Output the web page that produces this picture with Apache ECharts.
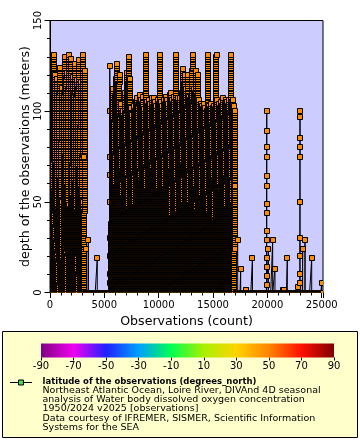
<!DOCTYPE html>
<html><head><meta charset="utf-8">
<script src="https://cdn.jsdelivr.net/npm/echarts@6/dist/echarts.min.js"></script>
<style>html,body{margin:0;padding:0;background:#fff}#c{width:360px;height:440px}</style>
</head><body><div id="c"></div>
<script>
// ================= DATA =================
// Deep CTD casts: observation index of first sample, deepest level (m); samples every 1 m from the surface
const castStart = [
  250,370,570,765,975,1225,1400,1590,1840,2000,2145,2330,2510,2715,2915,3130,
  5620,5730,5840,5950,6060,6170,6280,6390,6500,6610,6720,6830,6940,7050,7160,7270,7380,7490,7600,7710,
  7820,7930,8040,8150,8260,8370,8480,8590,8700,8810,8920,9030,9140,9250,9360,9470,9580,9690,9800,9910,
  10020,10130,10240,10350,10460,10570,10680,10790,10900,11010,11120,11230,11340,11450,11560,11670,11780,
  11890,12000,12110,12220,12330,12440,12550,12660,12770,12880,12990,13100,13210,13320,13430,13540,13650,
  13760,13870,13980,14090,14200,14310,14420,14530,14640,14750,14860,14970,15080,15190,15300,15410,15520,
  15630,15740,15850,15960,16070,16180,16290,16400,16510,16620,16730,16840,16950
];
const castMaxDepth = [
  131,120,118,124,113,130,121,131,129,119,126,117,128,116,131,122,
  100,112,108,118,126,115,120,104,98,100,96,110,121,115,130,118,102,98,103,100,
  105,107,104,109,106,104,108,101,131,105,103,106,104,107,102,107,105,103,106,104,
  131,105,103,106,104,108,106,104,109,110,106,104,108,131,105,107,104,107,110,123,
  115,120,112,120,108,106,108,131,112,110,122,108,120,106,104,103,101,104,102,100,
  131,103,101,104,102,103,101,131,106,104,102,105,103,107,104,106,105,103,106,131,
  104,106,103,100
];
// Shallower casts in between the deep ones
const shallowCastStart = [
  310,470,668,870,1100,1312,1495,1715,1920,2072,2237,2420,2612,2815,3022,
  5675,5785,5895,6005,6115,6225,6335,6445,6555,6665,6775,6885,6995,7105,7215,7325,7435,7545,7655,7765,
  7875,7985,8095,8205,8315,8425,8535,8645,8755,8865,8975,9085,9195,9305,9415,9525,9635,9745,9855,9965,
  10075,10185,10295,10405,10515,10625,10735,10845,10955,11065,11175,11285,11395,11505,11615,11725,11835,
  11945,12055,12165,12275,12385,12495,12605,12715,12825,12935,13045,13155,13265,13375,13485,13595,13705,
  13815,13925,14035,14145,14255,14365,14475,14585,14695,14805,14915,15025,15135,15245,15355,15465,15575,
  15685,15795,15905,16015,16125,16235,16345,16455,16565,16675,16785,16895
];
const shallowCastMaxDepth = [
  55,70,45,62,50,75,58,48,66,52,60,44,68,57,50,
  48,62,40,55,70,45,58,38,66,52,44,60,72,50,41,57,64,47,53,39,
  68,46,59,43,61,55,49,71,42,56,63,45,58,37,66,51,44,60,69,48,
  54,40,62,57,46,65,50,43,59,67,41,53,61,47,56,39,64,52,45,70,
  48,58,42,63,55,46,60,38,67,50,57,44,62,49,66,41,54,59,47,64,
  51,43,68,56,45,61,39,58,52,65,47,55,42,60,50,63,46,57,40,66,
  53,48,59
];
const castLevelStep = 1;
// Bottle casts / isolated samples: observation index, depths (m)
const bottleStart = [3150, 3285, 3525, 4350, 5490, 17060, 17270, 17545, 18000, 18060, 18630,
  19930, 20100, 20490, 20700, 21480, 21540, 21835, 22820, 22995, 23250, 23465, 24080, 24995];
const bottleLevels = [
  [75], [24], [29], [19], [0, 5, 10, 20, 30, 50, 65, 75, 100, 125], [24, 59], [29], [13], [1.5], [1.5], [19],
  [0, 4, 9, 14, 19, 29, 34, 44, 49, 59, 64, 75, 80, 89, 100], [24], [29], [13], [1.5], [1.5], [19], [3],
  [0, 5, 10, 20, 30, 50, 75, 80, 85, 97, 100], [24], [29], [19], [5]
];
// Runs of surface (0 m) observations, shown every 10th observation
const surfaceRuns = [[3260, 5470], [17080, 25120]];
const surfaceEvery = 10;

const xMax = 25120, xInterval = 5000;
const yMax = 150, yInterval = 50;
const colorbarMin = -90, colorbarMax = 90, colorbarInterval = 20;
const colorbarColors = ['#800080', '#f000f0', '#2020ff', '#00a0ff', '#00ff50', '#a8f000', '#ffd400', '#ff8400', '#ff1000', '#800000'];
const markerColor = '#ff8c00';
const legendTitle = 'latitude of the observations (degrees_north)';
const legendLines = [
  'Northeast Atlantic Ocean, Loire River, DIVAnd 4D seasonal',
  'analysis of Water body dissolved oxygen concentration',
  '1950/2024 v2025 [observations]',
  'Data courtesy of IFREMER, SISMER, Scientific Information',
  'Systems for the SEA'
];
const xTitle = 'Observations (count)';
const yTitle = 'depth of the observations (meters)';

// ================= build point sequence =================
const segs = [];
function addCast(s, maxD) {
  const pts = [];
  for (let d = 0, j = 0; d <= maxD; d += castLevelStep, j++) pts.push([s + j, d]);
  segs.push({ x: s, pts });
}
castStart.forEach((s, i) => addCast(s, castMaxDepth[i]));
shallowCastStart.forEach((s, i) => addCast(s, shallowCastMaxDepth[i]));
bottleStart.forEach((s, i) => segs.push({ x: s, pts: bottleLevels[i].map((d, j) => [s + j, d]) }));
surfaceRuns.forEach(([a, b]) => { for (let x = a; x <= b; x += surfaceEvery) segs.push({ x, pts: [[x, 0]] }); });
segs.sort((p, q) => p.x - q.x);
const points = [];
segs.forEach(s => s.pts.forEach(p => points.push(p)));

const FONT = 'DejaVu Sans';
const chart = echarts.init(document.getElementById('c'), null, { renderer: 'canvas' });

function renderMarker(params, api) {
  const p = api.coord([api.value(0), api.value(1)]);
  const cx = Math.round(p[0]), cy = Math.round(p[1]);
  return { type: 'rect', shape: { x: cx - 2.5, y: cy - 2.5, width: 5, height: 5 },
    style: { fill: markerColor, stroke: '#000', lineWidth: 1 } };
}
function renderBar(params, api) {
  const a = api.coord([colorbarMin, 1]), b = api.coord([colorbarMax, 0]);
  return { type: 'rect', shape: { x: a[0], y: a[1], width: b[0] - a[0], height: b[1] - a[1] },
    style: { fill: new echarts.graphic.LinearGradient(0, 0, 1, 0,
      colorbarColors.map((c, i) => ({ offset: i / (colorbarColors.length - 1), color: c }))) } };
}

const legendGraphics = [
  { type: 'rect', shape: { x: 2.5, y: 331.5, width: 355, height: 106 }, style: { fill: '#ffffcc', stroke: '#000', lineWidth: 1 }, z: -10 },
  { type: 'line', shape: { x1: 10, y1: 382.5, x2: 32, y2: 382.5 }, style: { stroke: '#000', lineWidth: 1 } },
  { type: 'rect', shape: { x: 18.5, y: 380, width: 5, height: 5 }, style: { fill: '#44dd44', stroke: '#000', lineWidth: 1 } },
  { type: 'text', style: { text: legendTitle, x: 42.5, y: 381.5, font: 'bold 8.5px "DejaVu Sans"', fill: '#000', align: 'left', verticalAlign: 'middle' } }
];
legendLines.forEach((t, i) => legendGraphics.push({ type: 'text',
  style: { text: t, x: 42.5, y: 390.8 + i * 9.1, font: '9.5px "DejaVu Sans"', fill: '#000', align: 'left', verticalAlign: 'middle' } }));

chart.setOption({
  animation: false,
  textStyle: { fontFamily: FONT },
  grid: [
    { left: 50, top: 20.5, width: 273, height: 272, show: true, backgroundColor: '#ccccff', borderColor: '#000', borderWidth: 1 },
    { left: 41, top: 343.5, width: 293, height: 14 }
  ],
  xAxis: [
    { type: 'value', gridIndex: 0, min: 0, max: xMax, interval: xInterval,
      name: xTitle, nameLocation: 'middle', nameGap: 20, nameTextStyle: { fontSize: 12.6, color: '#000', fontFamily: FONT },
      axisLine: { lineStyle: { color: '#000', width: 1 } },
      axisTick: { length: 5.5, lineStyle: { color: '#000' } },
      minorTick: { show: true, splitNumber: 5, length: 3, lineStyle: { color: '#000' } },
      axisLabel: { fontSize: 10, color: '#000', margin: 8, showMaxLabel: false, fontFamily: FONT, formatter: v => String(v) },
      splitLine: { show: false } },
    { type: 'value', gridIndex: 1, min: colorbarMin, max: colorbarMax, interval: colorbarInterval,
      axisLine: { show: false },
      axisTick: { length: 3, lineStyle: { color: '#000' } },
      axisLabel: { fontSize: 10, color: '#000', margin: 4, fontFamily: FONT, formatter: v => String(v) },
      splitLine: { show: false } }
  ],
  yAxis: [
    { type: 'value', gridIndex: 0, min: 0, max: yMax, interval: yInterval,
      name: yTitle, nameLocation: 'middle', nameGap: 18, nameMoveOverlap: false,
      nameTextStyle: { fontSize: 12.6, color: '#000', fontFamily: FONT },
      axisLine: { show: true, lineStyle: { color: '#000', width: 1 } },
      axisTick: { show: true, length: 5.5, lineStyle: { color: '#000' } },
      minorTick: { show: true, splitNumber: 5, length: 3, lineStyle: { color: '#000' } },
      axisLabel: { fontSize: 10, color: '#000', rotate: 90, margin: 7, fontFamily: FONT },
      splitLine: { show: false } },
    { type: 'value', gridIndex: 1, min: 0, max: 1, show: false }
  ],
  graphic: legendGraphics,
  series: [
    { type: 'line', xAxisIndex: 0, yAxisIndex: 0, data: points, showSymbol: false, symbol: 'none',
      lineStyle: { color: '#000', width: 1 }, clip: true, z: 2, silent: true, progressive: 0 },
    { type: 'custom', xAxisIndex: 0, yAxisIndex: 0, data: points, renderItem: renderMarker,
      encode: { x: 0, y: 1 }, clip: true, z: 3, silent: true, progressive: 0 },
    { type: 'custom', xAxisIndex: 1, yAxisIndex: 1, data: [[0, 0]], renderItem: renderBar, silent: true, z: 1, progressive: 0 }
  ]
});
</script></body></html>
